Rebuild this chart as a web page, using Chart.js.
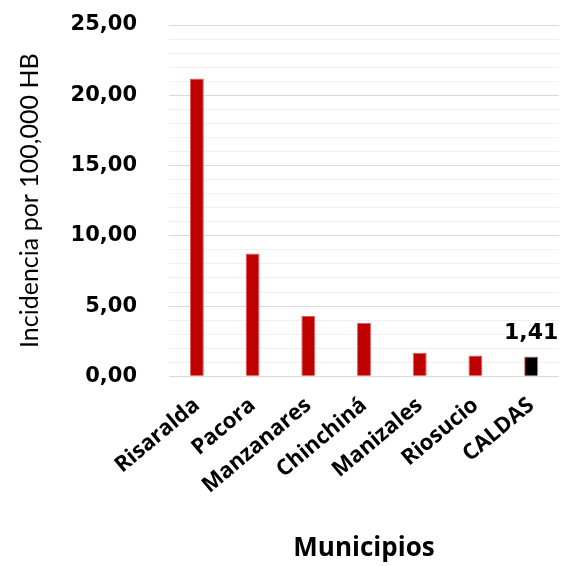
<!DOCTYPE html>
<html>
<head>
<meta charset="utf-8">
<script src="https://cdn.jsdelivr.net/npm/chart.js@4"></script>
<style>
  html, body { margin: 0; padding: 0; background: #fff; }
  #wrap { width: 561px; height: 566px; }
</style>
</head>
<body>
<div id="wrap"><canvas id="myChart"></canvas></div>
<script>
const municipios = ["Risaralda", "Pacora", "Manzanares", "Chinchiná", "Manizales", "Riosucio", "CALDAS"];
const incidencia = [21.2, 8.74, 4.29, 3.79, 1.67, 1.48, 1.41];
const barColors = ["#c00000", "#c00000", "#c00000", "#c00000", "#c00000", "#c00000", "#000000"];
const labelIndex = [6];
const yTicks = [0, 5, 10, 15, 20, 25];

const fmt = (v) => v.toFixed(2).replace(".", ",");

const valueLabel = {
  id: "valueLabel",
  afterDatasetsDraw(chart) {
    const ctx = chart.ctx;
    const meta = chart.getDatasetMeta(0);
    ctx.save();
    ctx.font = "bold 22px 'DejaVu Sans'";
    ctx.fillStyle = "#000";
    ctx.textAlign = "center";
    ctx.textBaseline = "alphabetic";
    labelIndex.forEach((i) => {
      const bar = meta.data[i];
      ctx.fillText(fmt(incidencia[i]), bar.x, bar.y - 18);
    });
    ctx.restore();
  },
};

new Chart(document.getElementById("myChart"), {
  type: "bar",
  data: {
    labels: municipios,
    datasets: [
      {
        data: incidencia,
        backgroundColor: barColors,
        borderColor: "#e06060",
        borderWidth: 1,
        barPercentage: 0.5,
        categoryPercentage: 0.5,
      },
    ],
  },
  options: {
    responsive: true,
    maintainAspectRatio: false,
    animation: false,
    layout: { padding: { top: 25, right: 2, left: 0, bottom: 0 } },
    plugins: { legend: { display: false }, tooltip: { enabled: false } },
    scales: {
      x: {
        grid: { display: false },
        border: { display: false },
        ticks: {
          color: "#000",
          minRotation: 40,
          maxRotation: 40,
          padding: 8,
          font: { family: "'Open Sans'", weight: "bold", size: 22 },
        },
        title: {
          display: true,
          text: "Municipios",
          color: "#000",
          padding: { top: 26, bottom: 2 },
          font: { family: "'Open Sans'", weight: "bold", size: 26 },
        },
      },
      y: {
        min: 0,
        max: 25,
        border: { display: false },
        afterFit: (scale) => {
          scale.paddingTop = 0;
          scale.width = 169;
        },
        grid: {
          color: (c) => (c.tick && c.tick.value % 5 === 0 ? "#d9d9d9" : "#f0f0f0"),
          lineWidth: 1,
          drawTicks: false,
        },
        ticks: {
          stepSize: 1,
          autoSkip: false,
          color: "#000",
          padding: 32,
          font: { family: "'DejaVu Sans'", weight: "bold", size: 21 },
          callback: (v) => (yTicks.includes(v) ? fmt(v) : ""),
        },
        title: {
          display: true,
          text: "Incidencia por 100,000 HB",
          color: "#000",
          padding: { top: 15, bottom: 23 },
          font: { family: "Lato", size: 25 },
        },
      },
    },
  },
  plugins: [valueLabel],
});
</script>
</body>
</html>
